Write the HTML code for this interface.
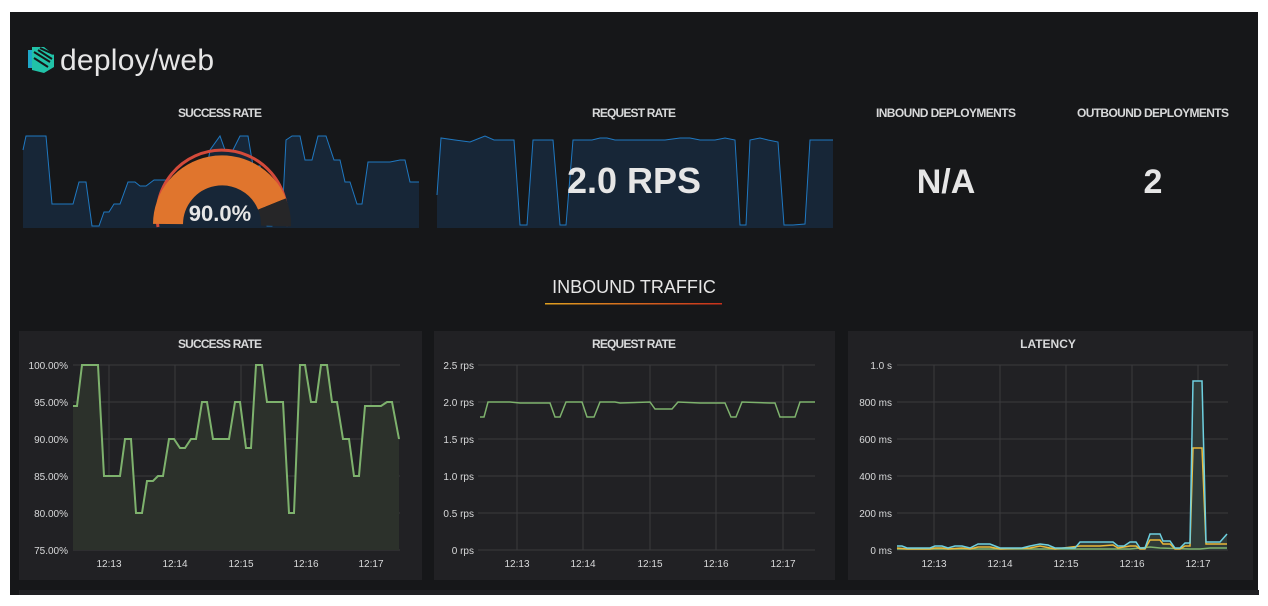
<!DOCTYPE html>
<html><head><meta charset="utf-8"><style>
html,body{margin:0;padding:0;background:#fff;}
body{width:1268px;height:606px;position:relative;overflow:hidden;font-family:"Liberation Sans",sans-serif;}
#bg{position:absolute;left:10px;top:12px;width:1248px;height:583px;background:#161719;}
svg text{font-family:"Liberation Sans",sans-serif;}
</style></head><body>
<div id="bg"></div>
<svg style="position:absolute;left:0;top:0" width="1268" height="606">
<g>
<rect x="28" y="50" width="4" height="18" fill="#1ea7c8"/>
<path d="M32,47 L44,47 L54,55 L54,67 L44,73 L32,70Z" fill="#21c3a8"/>
<path d="M34,52 L50,62 M34,58 L48,67 M38,50 L52,59 M40,48 L53,54" stroke="#161719" stroke-width="2"/>
</g>
<text x="60" y="70" font-size="30" fill="#e6e6e6" textLength="154">deploy/web</text>
<polygon fill="#172637" points="23,228 23,150 26,136 46,136 52,204 73,204 79,182 86,182 92,226 99,226 104,212 109,212 114,204 120,204 128,182 135,182 140,186 146,186 154,180 205,180 210,150 220,136 225,150 233,150 240,136 248,136 253,166 260,166 267,226 272,226 283,200 286,140 292,136 300,136 305,160 312,160 318,136 326,136 334,160 340,160 345,182 350,182 357,204 362,204 368,162 390,162 400,160 405,160 410,182 419,182 419,228"/>
<polyline fill="none" stroke="#1f78c1" stroke-width="1" points="23,150 26,136 46,136 52,204 73,204 79,182 86,182 92,226 99,226 104,212 109,212 114,204 120,204 128,182 135,182 140,186 146,186 154,180 205,180 210,150 220,136 225,150 233,150 240,136 248,136 253,166 260,166 267,226 272,226 283,200 286,140 292,136 300,136 305,160 312,160 318,136 326,136 334,160 340,160 345,182 350,182 357,204 362,204 368,162 390,162 400,160 405,160 410,182 419,182"/>
<path d="M158,227 A65,65 0 1 1 286,226" fill="none" stroke="#d44a3a" stroke-width="3"/>
<path d="M168,224 A54,54 0 0 1 272,204" fill="none" stroke="#e0752d" stroke-width="30"/>
<path d="M272,204 A54,54 0 0 1 276,226" fill="none" stroke="#262628" stroke-width="30"/>
<text x="220" y="221" font-size="22" font-weight="bold" fill="#e6e6e6" text-anchor="middle">90.0%</text>
<polygon fill="#172637" points="437,228 437,195 441,138 455,140 470,142 480,138 485,136 494,140 514,140 520,225 527,225 533,140 553,140 560,225 566,225 573,140 592,140 600,138 607,138 615,140 632,140 665,140 680,138 690,138 700,140 715,140 725,138 735,140 740,225 746,225 750,140 760,138 768,140 778,142 784,225 793,225 805,224 810,140 833,140 833,228"/>
<polyline fill="none" stroke="#1f78c1" stroke-width="1" points="437,195 441,138 455,140 470,142 480,138 485,136 494,140 514,140 520,225 527,225 533,140 553,140 560,225 566,225 573,140 592,140 600,138 607,138 615,140 632,140 665,140 680,138 690,138 700,140 715,140 725,138 735,140 740,225 746,225 750,140 760,138 768,140 778,142 784,225 793,225 805,224 810,140 833,140"/>
<text x="634" y="193" font-size="36" font-weight="bold" fill="#e6e6e6" text-anchor="middle">2.0 RPS</text>
<text x="946" y="193" font-size="34" font-weight="bold" fill="#e6e6e6" text-anchor="middle">N/A</text>
<text x="1153" y="193" font-size="34" font-weight="bold" fill="#e6e6e6" text-anchor="middle">2</text>
<text x="634" y="293" font-size="18" fill="#e6e6e6" text-anchor="middle">INBOUND TRAFFIC</text>
<defs><linearGradient id="g"><stop offset="0" stop-color="#e0a020"/><stop offset="1" stop-color="#c8301c"/></linearGradient></defs>
<rect x="545" y="303" width="177" height="1.5" fill="url(#g)"/>
<rect x="19" y="331" width="403" height="249" fill="#212124"/>
<rect x="434" y="331" width="401" height="249" fill="#212124"/>
<rect x="848" y="331" width="405" height="249" fill="#212124"/>
<rect x="19" y="590" width="1240" height="5" fill="#212124"/>
<g font-size="12" font-weight="bold" fill="#d8d9da" text-anchor="middle">
<text x="220" y="117" textLength="84">SUCCESS RATE</text>
<text x="634" y="117" textLength="84">REQUEST RATE</text>
<text x="946" y="117" textLength="140">INBOUND DEPLOYMENTS</text>
<text x="1153" y="117" textLength="152">OUTBOUND DEPLOYMENTS</text>
<text x="220" y="348" textLength="84">SUCCESS RATE</text>
<text x="634" y="348" textLength="84">REQUEST RATE</text>
<text x="1048" y="348">LATENCY</text>
</g>
<g stroke="#3a3a3d" stroke-width="1">
<line x1="73" y1="365" x2="400" y2="365"/><line x1="73" y1="402" x2="400" y2="402"/><line x1="73" y1="439" x2="400" y2="439"/><line x1="73" y1="476" x2="400" y2="476"/><line x1="73" y1="513" x2="400" y2="513"/><line x1="73" y1="550" x2="400" y2="550"/>
<line x1="109" y1="365" x2="109" y2="550"/><line x1="175" y1="365" x2="175" y2="550"/><line x1="241" y1="365" x2="241" y2="550"/><line x1="306" y1="365" x2="306" y2="550"/><line x1="371" y1="365" x2="371" y2="550"/>
<line x1="478" y1="365" x2="815" y2="365"/><line x1="478" y1="402" x2="815" y2="402"/><line x1="478" y1="439" x2="815" y2="439"/><line x1="478" y1="476" x2="815" y2="476"/><line x1="478" y1="513" x2="815" y2="513"/><line x1="478" y1="550" x2="815" y2="550"/>
<line x1="517" y1="365" x2="517" y2="550"/><line x1="583" y1="365" x2="583" y2="550"/><line x1="650" y1="365" x2="650" y2="550"/><line x1="716" y1="365" x2="716" y2="550"/><line x1="783" y1="365" x2="783" y2="550"/>
<line x1="897" y1="365" x2="1228" y2="365"/><line x1="897" y1="402" x2="1228" y2="402"/><line x1="897" y1="439" x2="1228" y2="439"/><line x1="897" y1="476" x2="1228" y2="476"/><line x1="897" y1="513" x2="1228" y2="513"/><line x1="897" y1="550" x2="1228" y2="550"/>
<line x1="934" y1="365" x2="934" y2="550"/><line x1="1000" y1="365" x2="1000" y2="550"/><line x1="1066" y1="365" x2="1066" y2="550"/><line x1="1132" y1="365" x2="1132" y2="550"/><line x1="1198" y1="365" x2="1198" y2="550"/>
</g>
<g font-size="10" fill="#d8d9da" text-anchor="end">
<text x="68" y="369">100.00%</text><text x="68" y="406">95.00%</text><text x="68" y="443">90.00%</text><text x="68" y="480">85.00%</text><text x="68" y="517">80.00%</text><text x="68" y="554">75.00%</text>
<text x="474" y="369">2.5 rps</text><text x="474" y="406">2.0 rps</text><text x="474" y="443">1.5 rps</text><text x="474" y="480">1.0 rps</text><text x="474" y="517">0.5 rps</text><text x="474" y="554">0 rps</text>
<text x="892" y="369">1.0 s</text><text x="892" y="406">800 ms</text><text x="892" y="443">600 ms</text><text x="892" y="480">400 ms</text><text x="892" y="517">200 ms</text><text x="892" y="554">0 ms</text>
</g>
<g font-size="10" fill="#d8d9da" text-anchor="middle">
<text x="109" y="567">12:13</text><text x="175" y="567">12:14</text><text x="241" y="567">12:15</text><text x="306" y="567">12:16</text><text x="371" y="567">12:17</text>
<text x="517" y="567">12:13</text><text x="583" y="567">12:14</text><text x="650" y="567">12:15</text><text x="716" y="567">12:16</text><text x="783" y="567">12:17</text>
<text x="934" y="567">12:13</text><text x="1000" y="567">12:14</text><text x="1066" y="567">12:15</text><text x="1132" y="567">12:16</text><text x="1198" y="567">12:17</text>
</g>
<polygon fill="#2c312b" points="73,550 73,406 77,406 82,365 98,365 104,476 120,476 125,439 131,439 136,513 142,513 147,481 153,481 158,476 163,476 169,439 174,439 180,448 185,448 191,439 196,439 202,402 207,402 213,439 229,439 235,402 240,402 246,448 251,448 256,365 262,365 267,402 283,402 289,513 294,513 300,365 305,365 311,402 316,402 321,365 327,365 332,402 337,402 343,439 349,439 354,476 359,476 365,406 381,406 387,402 392,402 399,439 399,550"/>
<polyline fill="none" stroke="#7eb26d" stroke-width="2" points="73,406 77,406 82,365 98,365 104,476 120,476 125,439 131,439 136,513 142,513 147,481 153,481 158,476 163,476 169,439 174,439 180,448 185,448 191,439 196,439 202,402 207,402 213,439 229,439 235,402 240,402 246,448 251,448 256,365 262,365 267,402 283,402 289,513 294,513 300,365 305,365 311,402 316,402 321,365 327,365 332,402 337,402 343,439 349,439 354,476 359,476 365,406 381,406 387,402 392,402 399,439"/>
<polyline fill="none" stroke="#7eb26d" stroke-width="1.5" points="480,417 484,417 488,402 510,402 520,403 550,403 555,417 560,417 566,402 582,402 587,417 594,417 600,402 615,402 620,403 650,402 655,409 672,409 678,402 700,403 725,403 731,417 736,417 742,402 770,403 775,403 780,417 795,417 800,402 815,402"/>
<polygon fill="#2f3a38" points="897,550 897,546 902,546 907,548 930,548 935,546 942,546 948,548 955,546 962,546 970,548 978,544 990,544 995,546 1000,548 1022,548 1030,546 1040,544 1048,545 1055,548 1075,548 1080,542 1100,542 1113,542 1118,546 1124,546 1130,542 1136,542 1140,548 1145,548 1150,534 1160,534 1163,541 1170,541 1175,548 1180,548 1185,543 1190,543 1193,381 1202,381 1206,542 1220,542 1227,534 1227,550"/>
<polyline fill="none" stroke="#7eb26d" stroke-width="1.5" points="897,549 1130,549 1150,547 1160,548 1190,549 1200,549 1210,548 1227,548"/>
<polyline fill="none" stroke="#eab839" stroke-width="1.5" points="897,548 907,549 930,549 935,548 942,548 948,549 962,548 970,549 978,547 990,547 1000,549 1030,548 1040,546 1055,549 1080,546 1100,546 1113,545 1118,548 1130,546 1136,546 1140,549 1145,549 1150,540 1160,540 1163,544 1170,544 1175,549 1180,549 1185,546 1190,546 1193,448 1202,448 1206,544 1227,544"/>
<polyline fill="none" stroke="#6ed0e0" stroke-width="1.5" points="897,546 902,546 907,548 930,548 935,546 942,546 948,548 955,546 962,546 970,548 978,544 990,544 995,546 1000,548 1022,548 1030,546 1040,544 1048,545 1055,548 1075,548 1080,542 1100,542 1113,542 1118,546 1124,546 1130,542 1136,542 1140,548 1145,548 1150,534 1160,534 1163,541 1170,541 1175,548 1180,548 1185,543 1190,543 1193,381 1202,381 1206,542 1220,542 1227,534"/>
</svg>
</body></html>
